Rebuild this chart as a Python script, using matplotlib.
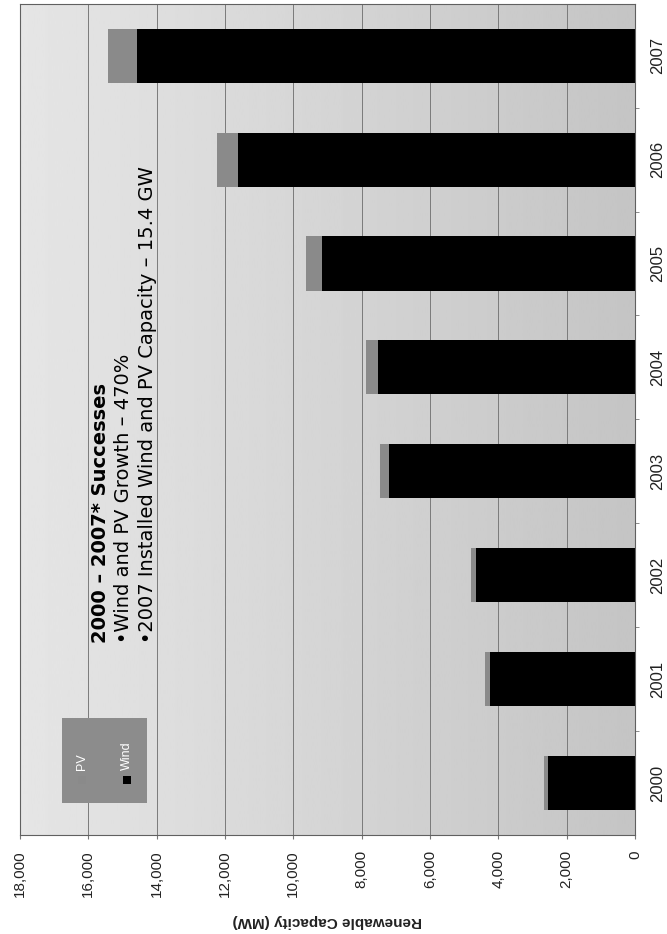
import numpy as np
import matplotlib.pyplot as plt
from matplotlib.patches import Rectangle

# installed renewable capacity by year (MW)
years = ["2000", "2001", "2002", "2003", "2004", "2005", "2006", "2007"]
wind = [2550, 4250, 4650, 7200, 7520, 9150, 11610, 14580]
pv = [120, 130, 150, 260, 350, 480, 630, 850]
value_ticks = [0, 2000, 4000, 6000, 8000, 10000, 12000, 14000, 16000, 18000]

headline = "2000 \u2013 2007* Successes"
bullets = ["\u2022Wind and PV Growth \u2013 470%",
           "\u20222007 Installed Wind and PV Capacity \u2013 15.4 GW"]

fig = plt.figure(figsize=(6.67, 9.34), dpi=100)
fig.patch.set_facecolor("white")
ax = fig.add_axes([0.030, 0.106, 0.922, 0.890])

pos = np.arange(len(years))

# chart is laid out sideways: value axis runs right-to-left along the bottom
ax.set_xlim(18000, 0)
ax.set_ylim(-0.5, len(years) - 0.5)

# shaded plot background
shade = np.linspace(0.90, 0.77, 256).reshape(1, -1)
ax.imshow(shade, extent=[18000, 0, -0.5, len(years) - 0.5], aspect="auto",
          cmap="gray", vmin=0, vmax=1, zorder=0)

for v in value_ticks[1:-1]:
    ax.axvline(v, color="#7a7a7a", lw=0.7, zorder=1)

ax.barh(pos, wind, height=0.52, color="black", zorder=2)
ax.barh(pos, pv, left=wind, height=0.52, color="#8a8a8a", zorder=2)

ax.set_xticks(value_ticks)
ax.set_xticklabels([f"{v:,}" for v in value_ticks], rotation=90,
                   fontsize=11, family="Liberation Sans", color="#222222")
ax.tick_params(axis="x", length=3, pad=8, color="#777777")

ax.yaxis.tick_right()
ax.set_yticks(pos)
ax.set_yticklabels(years, rotation=90, va="center", fontsize=12,
                   family="Liberation Sans", color="#222222")
ax.set_yticks(pos[:-1] + 0.5, minor=True)
ax.tick_params(axis="y", which="major", length=0, pad=11)
ax.tick_params(axis="y", which="minor", length=3, color="#777777")

for s in ax.spines.values():
    s.set_color("#606060")
    s.set_linewidth(0.8)

fig.text(0.490, 0.0139, "Renewable Capacity (MW)", rotation=180,
         ha="center", va="center", fontsize=11, fontweight="bold",
         family="Liberation Sans", color="#222222")

# legend box
ax.add_patch(Rectangle((0.068, 0.0385), 0.139, 0.1025, transform=ax.transAxes,
                       facecolor="#8c8c8c", edgecolor="none", zorder=3))
ax.add_patch(Rectangle((0.094, 0.0610), 0.013, 0.0098, transform=ax.transAxes,
                       facecolor="#8a8a8a", edgecolor="none", zorder=4))
ax.add_patch(Rectangle((0.167, 0.0610), 0.013, 0.0098, transform=ax.transAxes,
                       facecolor="black", edgecolor="none", zorder=4))
ax.text(0.101, 0.078, "PV", transform=ax.transAxes, rotation=90,
        ha="center", va="bottom", fontsize=9, color="white",
        family="Liberation Sans", zorder=4)
ax.text(0.174, 0.078, "Wind", transform=ax.transAxes, rotation=90,
        ha="center", va="bottom", fontsize=9, color="white",
        family="Liberation Sans", zorder=4)

# summary note
ax.text(0.131, 0.231, headline, transform=ax.transAxes, rotation=90,
        ha="center", va="bottom", fontsize=14, fontweight="bold",
        family="DejaVu Sans", zorder=4)
for i, line in enumerate(bullets):
    ax.text(0.169 + 0.038 * i, 0.231, line, transform=ax.transAxes,
            rotation=90, ha="center", va="bottom", fontsize=14,
            family="DejaVu Sans", zorder=4)

fig.savefig("out.png", dpi=100)
